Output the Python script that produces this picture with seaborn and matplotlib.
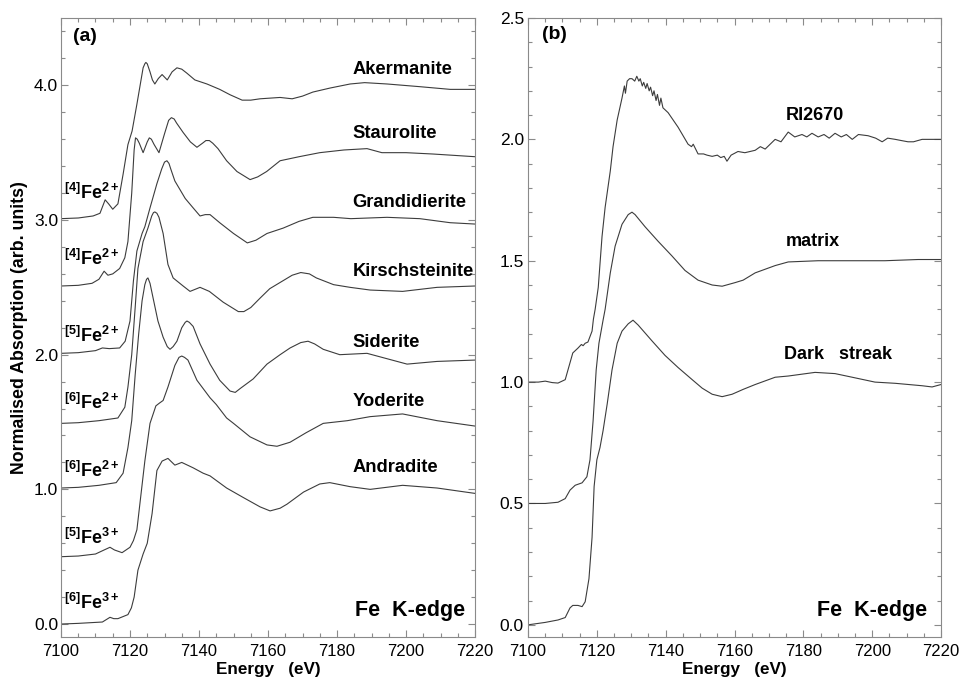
import matplotlib
matplotlib.use('Agg')
import matplotlib.pyplot as plt
from matplotlib.ticker import MultipleLocator, FormatStrFormatter
import seaborn as sns
import pandas as pd

# ---- panel (a): reference minerals (stacked) ----
akermanite_e = [7100, 7105, 7109.3, 7111.3, 7112.8, 7113.8, 7115, 7116.5, 7118, 7119.4, 7120.6, 7122, 7123,
                7123.8, 7124.3, 7124.6, 7125, 7125.8, 7126.5, 7127.2, 7128.2, 7129.3, 7130.8, 7132.2, 7133.6,
                7135, 7136.5, 7138.8, 7142.3, 7146, 7149, 7152.5, 7155, 7157.7, 7163.5, 7167, 7170, 7173,
                7178, 7183.8, 7188, 7194.5, 7204, 7212.8, 7220]
akermanite_y = [3.01, 3.015, 3.03, 3.05, 3.15, 3.12, 3.08, 3.12, 3.34, 3.56, 3.66, 3.86, 4.01,
                4.13, 4.16, 4.17, 4.16, 4.10, 4.04, 4.01, 4.05, 4.08, 4.04, 4.10, 4.13,
                4.12, 4.09, 4.04, 4.01, 3.97, 3.93, 3.89, 3.89, 3.90, 3.91, 3.90, 3.92, 3.95,
                3.98, 4.01, 4.02, 4.01, 3.99, 3.97, 3.97]

staurolite_e = [7100, 7105, 7109, 7111, 7112.5, 7113.6, 7115, 7117, 7118.5, 7119.4, 7120.5, 7121.2, 7121.6,
                7122.1, 7122.7, 7123.8, 7125, 7125.6, 7126.2, 7127, 7128.4, 7130, 7131.2, 7132, 7132.8,
                7133.5, 7135.4, 7137.5, 7139.4, 7141, 7142, 7143, 7144, 7145.5, 7148, 7151, 7154.8, 7157,
                7159.6, 7163.5, 7169, 7175, 7182, 7188.7, 7193, 7200, 7207.8, 7220]
staurolite_y = [2.51, 2.515, 2.53, 2.56, 2.62, 2.59, 2.60, 2.64, 2.72, 2.84, 3.20, 3.52, 3.61,
                3.60, 3.57, 3.50, 3.58, 3.61, 3.60, 3.56, 3.50, 3.64, 3.74, 3.76, 3.75,
                3.72, 3.65, 3.58, 3.54, 3.57, 3.59, 3.59, 3.57, 3.53, 3.44, 3.36, 3.30, 3.32,
                3.36, 3.44, 3.47, 3.50, 3.52, 3.53, 3.50, 3.50, 3.49, 3.47]

grandidierite_e = [7100, 7105, 7110, 7112, 7114, 7117, 7118.6, 7120, 7121, 7122, 7123.5, 7124.3, 7125.8,
                   7127.8, 7129.2, 7130, 7130.7, 7131.3, 7131.8, 7133, 7136, 7138.3, 7140.3, 7141.8, 7143.2,
                   7146, 7150, 7154, 7156.5, 7159.7, 7164.4, 7169, 7173, 7179, 7184, 7194.5, 7204, 7212.8,
                   7220]
grandidierite_y = [2.01, 2.015, 2.03, 2.05, 2.045, 2.05, 2.10, 2.25, 2.55, 2.77, 2.90, 2.95, 3.09,
                   3.27, 3.38, 3.43, 3.44, 3.42, 3.38, 3.29, 3.16, 3.09, 3.03, 3.04, 3.04,
                   2.98, 2.90, 2.83, 2.85, 2.90, 2.94, 2.99, 3.02, 3.02, 3.01, 3.02, 3.01, 2.98,
                   2.97]

kirschsteinite_e = [7100, 7105, 7111, 7116.5, 7118.5, 7119.4, 7120.5, 7121.5, 7122.3, 7123.8, 7125.2, 7126.3,
                    7126.8, 7127.2, 7127.8, 7128.4, 7129.6, 7131, 7132.5, 7135.4, 7137.4, 7140.3, 7143,
                    7147, 7151.4, 7153, 7155, 7157.7, 7160.5, 7164.4, 7167, 7169.5, 7172, 7174, 7179, 7183.8,
                    7189.6, 7199, 7209, 7220]
kirschsteinite_y = [1.49, 1.495, 1.51, 1.53, 1.61, 1.76, 2.00, 2.35, 2.64, 2.84, 2.94, 3.03,
                    3.055, 3.06, 3.05, 3.02, 2.90, 2.67, 2.57, 2.51, 2.47, 2.50, 2.47,
                    2.39, 2.32, 2.32, 2.35, 2.42, 2.49, 2.55, 2.59, 2.61, 2.60, 2.57, 2.52, 2.50,
                    2.48, 2.47, 2.50, 2.51]

siderite_e = [7100, 7105, 7111, 7116, 7118, 7119.4, 7120.5, 7121.5, 7122.5, 7123.5, 7124.3, 7124.8, 7125.2,
              7125.8, 7126.7, 7128.1, 7129.6, 7130.8, 7131.6, 7132.5, 7133.6, 7135, 7136, 7136.5, 7137.2,
              7138.3, 7140.3, 7143.2, 7146, 7149, 7150.5, 7152, 7155.7, 7159.7, 7163.5, 7166.4, 7169.5,
              7171.6, 7173.5, 7176, 7180.8, 7188.7, 7194.5, 7200.3, 7209, 7220]
siderite_y = [1.01, 1.015, 1.03, 1.05, 1.12, 1.31, 1.51, 1.85, 2.15, 2.40, 2.52, 2.56, 2.57,
              2.53, 2.42, 2.25, 2.13, 2.06, 2.04, 2.06, 2.10, 2.20, 2.24, 2.25, 2.24,
              2.21, 2.08, 1.93, 1.81, 1.73, 1.72, 1.75, 1.82, 1.93, 2.00, 2.05, 2.09,
              2.10, 2.08, 2.04, 2.00, 2.01, 1.97, 1.93, 1.95, 1.96]

yoderite_e = [7100, 7105, 7110, 7112.5, 7114.2, 7115.5, 7117.7, 7120, 7121, 7122, 7122.9, 7124.3, 7125.8,
              7127.5, 7128.5, 7129.6, 7131, 7133, 7134.2, 7135, 7135.8, 7136.8, 7139.4, 7143.2, 7145, 7148,
              7150, 7154.8, 7159.7, 7162.6, 7166.4, 7171, 7176, 7183, 7189.6, 7199, 7209, 7220]
yoderite_y = [0.50, 0.505, 0.52, 0.55, 0.57, 0.55, 0.53, 0.57, 0.62, 0.70, 0.90, 1.21, 1.49,
              1.62, 1.64, 1.66, 1.76, 1.92, 1.98, 1.99, 1.98, 1.96, 1.81, 1.68, 1.63, 1.53,
              1.49, 1.39, 1.33, 1.32, 1.35, 1.42, 1.49, 1.51, 1.54, 1.56, 1.51, 1.47]

andradite_e = [7100, 7105, 7112, 7114.2, 7115.3, 7116.5, 7119.4, 7120.4, 7121.2, 7122.3, 7123.8, 7125, 7126.4,
               7127.8, 7129.3, 7131, 7133, 7135, 7138.3, 7141.2, 7143.2, 7148, 7152.8, 7157.7, 7160.6,
               7163.5, 7165.5, 7170.3, 7175, 7177.9, 7183.8, 7189.6, 7199, 7209, 7220]
andradite_y = [0.0, 0.005, 0.015, 0.05, 0.04, 0.04, 0.07, 0.12, 0.20, 0.40, 0.52, 0.60, 0.82,
               1.14, 1.21, 1.23, 1.18, 1.20, 1.16, 1.12, 1.10, 1.01, 0.94, 0.87, 0.84,
               0.86, 0.89, 0.98, 1.04, 1.05, 1.02, 1.00, 1.03, 1.01, 0.97]

minerals = ['Akermanite', 'Staurolite', 'Grandidierite', 'Kirschsteinite', 'Siderite', 'Yoderite', 'Andradite']
mineral_label_y = [4.12, 3.64, 3.13, 2.62, 2.09, 1.65, 1.16]
sites = [r'$^{[4]}$Fe$^{2+}$', r'$^{[4]}$Fe$^{2+}$', r'$^{[5]}$Fe$^{2+}$', r'$^{[6]}$Fe$^{2+}$',
         r'$^{[6]}$Fe$^{2+}$', r'$^{[5]}$Fe$^{3+}$', r'$^{[6]}$Fe$^{3+}$']
site_label_y = [3.20, 2.71, 2.14, 1.64, 1.14, 0.64, 0.155]

# ---- panel (b): samples ----
ri2670_e = [7100, 7103, 7105, 7107, 7108.7, 7110.8, 7112.2, 7113, 7114.5, 7115.5, 7116, 7116.6, 7117.4,
            7118.6, 7119, 7119.5, 7120.4, 7121.5, 7122.4, 7123.9, 7124.7, 7125.9, 7127.3, 7128, 7128.3,
            7128.8, 7129.5, 7130.2, 7131, 7131.6, 7132.2, 7132.6, 7133.2, 7133.6, 7134.2, 7134.6, 7135.2,
            7135.6, 7136.2, 7136.6, 7137.2, 7137.6, 7138.2, 7138.6, 7139.2, 7140.7, 7143.6, 7146.5, 7147.5,
            7148, 7149.4, 7151, 7152, 7153.5, 7155, 7156, 7157, 7157.8, 7159, 7161, 7163, 7166, 7167.5,
            7168.9, 7171.8, 7173.5, 7175.6, 7177.5, 7179.6, 7181, 7182.5, 7184.3, 7186, 7187.5, 7189.2,
            7191, 7192.5, 7194.2, 7196, 7198.8, 7201, 7202.9, 7204.5, 7206.7, 7208.5, 7210.4, 7212,
            7214.5, 7220]
ri2670_y = [1.00, 1.00, 1.004, 0.998, 0.996, 1.01, 1.08, 1.12, 1.14, 1.155, 1.15, 1.16, 1.165,
            1.21, 1.26, 1.30, 1.39, 1.60, 1.72, 1.87, 1.97, 2.08, 2.17, 2.22, 2.19,
            2.24, 2.25, 2.25, 2.24, 2.26, 2.24, 2.25, 2.22, 2.235, 2.21, 2.23, 2.20,
            2.215, 2.18, 2.20, 2.16, 2.185, 2.14, 2.17, 2.13, 2.11, 2.05, 1.98, 1.97,
            1.98, 1.94, 1.94, 1.935, 1.93, 1.935, 1.925, 1.93, 1.91, 1.935, 1.95, 1.945, 1.955, 1.97,
            1.96, 2.00, 1.99, 2.03, 2.01, 2.02, 2.01, 2.025, 2.01, 2.02, 2.005, 2.025,
            2.01, 2.02, 2.00, 2.02, 2.015, 2.005, 1.99, 2.005, 2.00, 1.995, 1.99, 1.99,
            2.00, 2.00]

matrix_e = [7100, 7105, 7108.7, 7110.8, 7112.2, 7113.7, 7115.7, 7117.1, 7118, 7118.9, 7119.8, 7120.6,
            7121.8, 7122.4, 7123.9, 7125.3, 7127.3, 7129.1, 7130.2, 7131.1, 7134, 7137.8, 7141.8, 7145.6,
            7149.4, 7153.5, 7156.4, 7160.2, 7162.5, 7166, 7171.8, 7175.6, 7184.3, 7194.2, 7203.7, 7213.3, 7220]
matrix_y = [0.50, 0.50, 0.505, 0.52, 0.555, 0.575, 0.585, 0.61, 0.68, 0.84, 1.05, 1.16,
            1.255, 1.30, 1.45, 1.56, 1.65, 1.69, 1.70, 1.69, 1.64, 1.58, 1.52, 1.46,
            1.42, 1.40, 1.395, 1.41, 1.42, 1.45, 1.48, 1.495, 1.50, 1.50, 1.50, 1.505, 1.505]

dark_e = [7100, 7105, 7108.7, 7110.8, 7112.2, 7113, 7114.5, 7115.7, 7116.6, 7117.7, 7118.6, 7119.2, 7120,
          7120.9, 7121.8, 7123, 7124.4, 7125.9, 7127.3, 7129.1, 7130.5, 7132, 7136, 7139.8, 7143.6, 7147.7,
          7150.6, 7153.5, 7156.4, 7159.3, 7162.5, 7166, 7171.8, 7175.6, 7183.4, 7189.2, 7194.2, 7200.8,
          7206.7, 7214.5, 7217.4, 7220]
dark_y = [0.0, 0.01, 0.02, 0.03, 0.07, 0.08, 0.08, 0.075, 0.095, 0.19, 0.36, 0.57, 0.68,
          0.73, 0.80, 0.91, 1.05, 1.16, 1.21, 1.24, 1.255, 1.235, 1.17, 1.11, 1.06, 1.01,
          0.975, 0.95, 0.94, 0.95, 0.97, 0.99, 1.02, 1.025, 1.04, 1.035, 1.02, 1.00,
          0.995, 0.985, 0.98, 0.99]

samples = ['RI2670', 'matrix', 'Dark   streak']
sample_label_x = [7183.4, 7182.8, 7190]
sample_label_y = [2.10, 1.58, 1.115]

sns.set_theme(style='ticks')
plt.rcParams['font.family'] = ['Liberation Sans', 'DejaVu Sans']
plt.rcParams['mathtext.fontset'] = 'custom'
plt.rcParams['mathtext.rm'] = 'Liberation Sans:bold'
plt.rcParams['mathtext.bf'] = 'Liberation Sans:bold'
plt.rcParams['mathtext.it'] = 'Liberation Sans:bold'
plt.rcParams['text.color'] = 'black'
plt.rcParams['axes.labelcolor'] = 'black'

line_col = '#3c3c3c'
frame_col = '#8a8a8a'

fig = plt.figure(figsize=(9.62, 6.79), dpi=100)
ax1 = fig.add_axes([0.0634, 0.0619, 0.4304, 0.9116])
ax2 = fig.add_axes([0.5489, 0.0619, 0.4293, 0.9116])

left_curves = [(akermanite_e, akermanite_y), (staurolite_e, staurolite_y), (grandidierite_e, grandidierite_y),
               (kirschsteinite_e, kirschsteinite_y), (siderite_e, siderite_y), (yoderite_e, yoderite_y),
               (andradite_e, andradite_y)]
for e, y in left_curves:
    df = pd.DataFrame({'energy': e, 'mu': y})
    sns.lineplot(data=df, x='energy', y='mu', ax=ax1, color=line_col, lw=0.8, estimator=None)

right_curves = [(ri2670_e, ri2670_y), (matrix_e, matrix_y), (dark_e, dark_y)]
for e, y in right_curves:
    df = pd.DataFrame({'energy': e, 'mu': y})
    sns.lineplot(data=df, x='energy', y='mu', ax=ax2, color=line_col, lw=0.8, estimator=None)

# labels, panel (a)
for name, yy in zip(minerals, mineral_label_y):
    ax1.text(7184.5, yy, name, fontsize=13.2, fontweight='bold', ha='left', va='center', color='black')
for s, yy in zip(sites, site_label_y):
    ax1.text(7101, yy, s, fontsize=13, fontweight='bold', ha='left', va='center', color='black')
ax1.text(7103.5, 4.36, '(a)', fontsize=14, fontweight='bold', ha='left', va='center', color='black')
ax1.text(7217, 0.10, 'Fe  K-edge', fontsize=15.5, fontweight='bold', ha='right', va='center', color='black')

# labels, panel (b)
for name, xx, yy in zip(samples, sample_label_x, sample_label_y):
    ax2.text(xx, yy, name, fontsize=13, fontweight='bold', ha='center', va='center', color='black')
ax2.text(7104, 2.43, '(b)', fontsize=14, fontweight='bold', ha='left', va='center', color='black')
ax2.text(7216, 0.06, 'Fe  K-edge', fontsize=15.5, fontweight='bold', ha='right', va='center', color='black')

for ax in (ax1, ax2):
    ax.set_xlim(7100, 7220)
    ax.xaxis.set_major_locator(MultipleLocator(20))
    ax.xaxis.set_minor_locator(MultipleLocator(5))
    ax.xaxis.set_major_formatter(FormatStrFormatter('%d'))
    ax.yaxis.set_major_formatter(FormatStrFormatter('%.1f'))
    ax.tick_params(which='both', direction='in', top=True, right=True, color=frame_col,
                   labelsize=12.5, labelcolor='black', width=0.8)
    ax.tick_params(which='major', length=5)
    ax.tick_params(which='minor', length=3)
    ax.tick_params(axis='x', pad=5, labelsize=12)
    for sp in ax.spines.values():
        sp.set_color(frame_col)
        sp.set_linewidth(0.8)
        sp.set_visible(True)
    ax.set_xlabel('Energy   (eV)', fontsize=12.3, fontweight='bold', labelpad=2, color='black')

ax1.set_ylim(-0.096, 4.5)
ax1.yaxis.set_major_locator(MultipleLocator(1.0))
ax1.yaxis.set_minor_locator(MultipleLocator(0.2))
ax1.tick_params(axis='y', pad=2)
ax1.set_ylabel('Normalised Absorption (arb. units)', fontsize=12.8, fontweight='bold', labelpad=4,
               color='black')

ax2.set_ylim(-0.05, 2.5)
ax2.yaxis.set_major_locator(MultipleLocator(0.5))
ax2.yaxis.set_minor_locator(MultipleLocator(0.1))
ax2.tick_params(axis='y', pad=3)
ax2.set_ylabel('')

fig.savefig('out.png', dpi=100)
